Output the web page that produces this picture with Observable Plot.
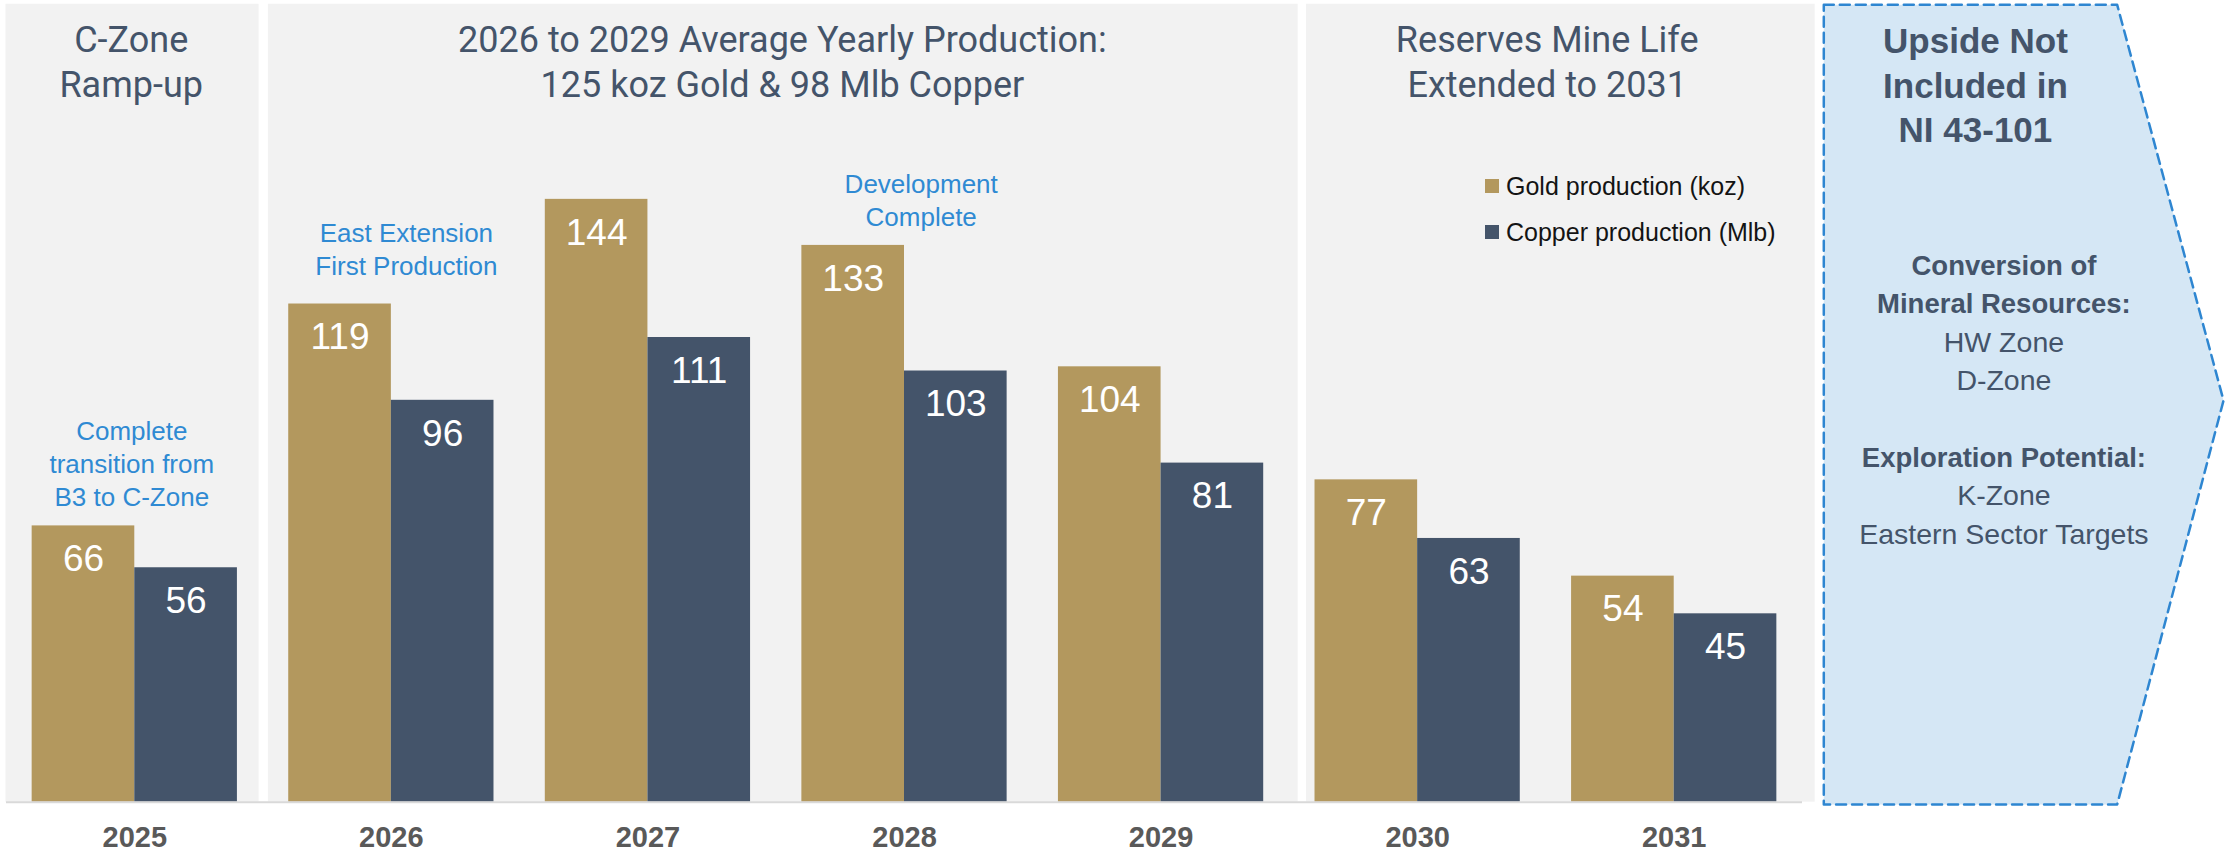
<!DOCTYPE html>
<html>
<head>
<meta charset="utf-8">
<script src="https://cdn.jsdelivr.net/npm/d3@7"></script>
<script src="https://cdn.jsdelivr.net/npm/@observablehq/plot@0.6"></script>
<style>
  html, body { margin: 0; padding: 0; background: #ffffff; }
  #wrap { position: relative; width: 2227px; height: 855px; overflow: hidden; }
  #legend { position: absolute; left: 1485px; top: 163px; }
  .lg-swatches { font-family: "Liberation Sans", Arial, sans-serif !important; font-size: 25px !important; color: #141414 !important; display: block !important; min-height: 0 !important; margin: 0 !important; }
  .lg-swatch { display: flex !important; align-items: center !important; height: 46px !important; margin: 0 !important; white-space: nowrap; }
  .lg-swatch > svg { margin-right: 7px !important; }
</style>
</head>
<body>
<div id="wrap"><div id="legend"></div></div>
<script>
// ---------- data ----------
const years = [2025, 2026, 2027, 2028, 2029, 2030, 2031];
const goldKoz = [66, 119, 144, 133, 104, 77, 54];
const copperMlb = [56, 96, 111, 103, 81, 63, 45];
const seriesNames = ["Gold production (koz)", "Copper production (Mlb)"];
const panelTitles = [
  "C-Zone\nRamp-up",
  "2026 to 2029 Average Yearly Production:\n125 koz Gold & 98 Mlb Copper",
  "Reserves Mine Life\nExtended to 2031"
];
const notes = [
  { year: 2025, text: "Complete\ntransition from\nB3 to C-Zone" },
  { year: 2026, text: "East Extension\nFirst Production" },
  { year: 2028, text: "Development\nComplete" }
];
const upsideTitle = "Upside Not\nIncluded in\nNI 43-101";
const upsideLines = [
  { text: "Conversion of", bold: true },
  { text: "Mineral Resources:", bold: true },
  { text: "HW Zone", bold: false },
  { text: "D-Zone", bold: false },
  { text: "", bold: false },
  { text: "Exploration Potential:", bold: true },
  { text: "K-Zone", bold: false },
  { text: "Eastern Sector Targets", bold: false }
];

// ---------- layout & style ----------
const W = 2227, H = 855;
const GOLD = "#B3985E", COPPER = "#44546A", SLATE = "#44546A", NOTE = "#2F8AD3", PANEL = "#F2F2F2";
const SANS = "'Liberation Sans', Arial, sans-serif";
const TITLE_FONT = "Roboto, 'Liberation Sans', sans-serif";
// panel backgrounds, in category-index units
const panelEdges = [[-0.502, 0.4845], [0.5208, 4.5344], [4.5668, 6.5495]];
const panelTop = 190.6;
const panelTitleX = [-0.014, 2.524, 5.505];
const noteOffsets = [{ dx: -3, dy: -19.7 }, { dx: 15, dy: -28.7 }, { dx: 16.7, dy: -19.7 }];
// chevron outline of the "upside" callout, in index / value units
const arrowShape = [[6.583, 190.47], [7.7265, 190.47], [8.141, 95.96], [7.7265, -0.55], [6.583, -0.55]];
const upsideTitleX = 7.174, upsideBodyX = 7.285;

const rows = years.flatMap((yr, i) => [
  { i, s: 0, series: seriesNames[0], value: goldKoz[i] },
  { i, s: 1, series: seriesNames[1], value: copperMlb[i] }
]);

const boldBody = upsideLines.map(d => d.bold ? d.text : "").join("\n");
const regularBody = upsideLines.map(d => d.bold ? "" : d.text).join("\n");

const chart = Plot.plot({
  width: W,
  height: H,
  marginLeft: 6,
  marginRight: W - 1802,
  marginTop: 0,
  marginBottom: 53.3,
  style: { background: "transparent", fontFamily: SANS, overflow: "visible" },
  x: { type: "linear", domain: [-0.5, 6.5], axis: null },
  y: { domain: [0, 191.5], axis: null },
  color: { domain: seriesNames, range: [GOLD, COPPER] },
  marks: [
    Plot.rect(panelEdges, { x1: d => d[0], x2: d => d[1], y1: 0, y2: panelTop, fill: PANEL }),
    Plot.line(arrowShape, {
      x: d => d[0], y: d => d[1], curve: "linear-closed",
      fill: "#D5E7F5", stroke: "#2E86D1", strokeWidth: 2.5, strokeDasharray: "10,6"
    }),
    Plot.rect(rows, {
      x1: d => d.i - 0.4 + d.s * 0.4,
      x2: d => d.i + d.s * 0.4,
      y1: 0, y2: "value", fill: "series"
    }),
    Plot.ruleY([0], { stroke: "#D9D9D9", strokeWidth: 2 }),
    Plot.text(rows, {
      x: d => d.i - 0.2 + d.s * 0.4, y: "value", text: d => String(d.value),
      dy: 33.5, fill: "white", fontSize: 37, fontFamily: SANS
    }),
    Plot.axisX({
      ticks: d3.range(years.length), tickFormat: i => String(years[i]),
      tickSize: 0, tickPadding: 24, fontSize: 29, fontWeight: "bold",
      color: "#595959", fill: "#595959", label: null, fontFamily: SANS
    }),
    Plot.text(panelTitles, {
      x: (d, i) => panelTitleX[i], frameAnchor: "top", lineAnchor: "top",
      dy: 19.75, lineHeight: 1.25, fontSize: 36, fill: SLATE, fontFamily: TITLE_FONT
    }),
    ...notes.map((n, k) => Plot.text([n], {
      x: d => years.indexOf(d.year),
      y: d => goldKoz[years.indexOf(d.year)],
      text: "text", lineAnchor: "bottom",
      dx: noteOffsets[k].dx, dy: noteOffsets[k].dy,
      lineHeight: 33 / 26, fontSize: 26, fill: NOTE, fontFamily: SANS
    })),
    Plot.text([upsideTitle], {
      x: upsideTitleX, frameAnchor: "top", lineAnchor: "top",
      dy: 21.3, lineHeight: 44.5 / 35, fontSize: 35, fontWeight: "bold", fill: SLATE, fontFamily: SANS
    }),
    Plot.text([boldBody], {
      x: upsideBodyX, frameAnchor: "top", lineAnchor: "top",
      dy: 247, lineHeight: 38.4 / 27.5, fontSize: 27.5, fontWeight: "bold", fill: SLATE, fontFamily: SANS
    }),
    Plot.text([regularBody], {
      x: upsideBodyX, frameAnchor: "top", lineAnchor: "top",
      dy: 247, lineHeight: 38.4 / 28.5, fontSize: 28.5, fill: SLATE, fontFamily: SANS
    })
  ]
});

document.getElementById("wrap").insertBefore(chart, document.getElementById("legend"));
const legend = chart.legend("color", { swatchSize: 14, className: "lg" });
document.getElementById("legend").appendChild(legend);
</script>
</body>
</html>
